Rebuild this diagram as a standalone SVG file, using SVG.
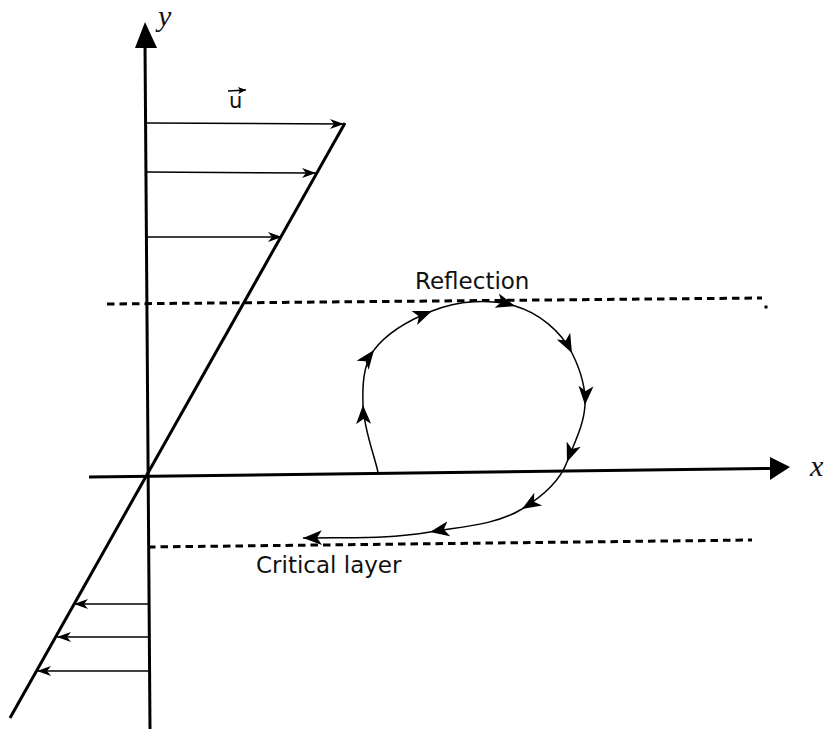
<svg xmlns="http://www.w3.org/2000/svg" width="826" height="729" viewBox="0 0 826 729">
<style>
.axis{stroke:#000;stroke-width:3;fill:none}
.thin{stroke:#000;stroke-width:1.5;fill:none}
.dash{stroke:#000;stroke-width:3;fill:none;stroke-dasharray:7.5 5}
.lbl{font-family:"DejaVu Sans",Verdana,sans-serif;font-size:23px;fill:#111}
.var{font-family:"Liberation Serif","Times New Roman",serif;font-style:italic;font-size:30px;fill:#111}
</style>
<defs>
<marker id="ah" markerUnits="userSpaceOnUse" markerWidth="22" markerHeight="18" viewBox="-19 -9 22 18" refX="0" refY="0" orient="auto">
<path d="M0,0 L-19,-7.5 L-14,0 L-19,7.5 Z" fill="#000"/>
</marker>
<marker id="vh" markerUnits="userSpaceOnUse" markerWidth="16" markerHeight="12" viewBox="-14 -6 16 12" refX="0" refY="0" orient="auto">
<path d="M0,0 L-14,-5 L-10,0 L-14,5 Z" fill="#000"/>
</marker>
<marker id="sh" markerUnits="userSpaceOnUse" markerWidth="10" markerHeight="8" viewBox="-8 -4 10 8" refX="0" refY="0" orient="auto">
<path d="M0,0 L-8,-3.5 L-6,0 L-8,3.5 Z" fill="#000"/>
</marker>
</defs>
<g id="axes">
<line class="axis" x1="145" y1="44" x2="150" y2="729"/>
<polygon points="145,22 135,48 157,48" fill="#000"/>
<line class="axis" x1="89" y1="477" x2="772" y2="468.5"/>
<polygon points="790,467 770,457 770,480" fill="#000"/>
<line class="axis" x1="345" y1="123" x2="10" y2="718"/>
</g>
<g id="profile-arrows">
<line class="thin" x1="146" y1="123" x2="344" y2="124" marker-end="url(#vh)"/>
<line class="thin" x1="146" y1="172" x2="316" y2="173" marker-end="url(#vh)"/>
<line class="thin" x1="146" y1="237" x2="282" y2="237" marker-end="url(#vh)"/>
<line class="thin" x1="148" y1="604" x2="74" y2="604" marker-end="url(#vh)"/>
<line class="thin" x1="148" y1="637" x2="57" y2="637" marker-end="url(#vh)"/>
<line class="thin" x1="148" y1="671" x2="37" y2="671" marker-end="url(#vh)"/>
</g>
<g id="layers">
<line class="dash" x1="107" y1="304" x2="762" y2="298"/>
<rect x="764.5" y="305.5" width="3" height="3" fill="#000"/>
<line class="dash" x1="148" y1="547" x2="752" y2="540"/>
</g>
<g id="ray">
<path class="thin" d="M378,472 C372.6,449.7 363.7,427.9 363,405" marker-end="url(#ah)"/>
<path class="thin" d="M363,405 C362.4,386.3 362.8,365 374,350" marker-end="url(#ah)"/>
<path class="thin" d="M374,350 C388,331.4 410.3,319.6 432,311" marker-end="url(#ah)"/>
<path class="thin" d="M432,311 C457.8,300.7 488.7,298.3 515,306" marker-end="url(#ah)"/>
<path class="thin" d="M515,306 C538.6,312.9 560.9,330.9 572,353" marker-end="url(#ah)"/>
<path class="thin" d="M572,353 C580,369.1 585.9,387.1 585,405" marker-end="url(#ah)"/>
<path class="thin" d="M585,405 C584,424.9 574,443.3 567,462" marker-end="url(#ah)"/>
<path class="thin" d="M567,462 C559.4,482.4 540.4,497.7 522,509" marker-end="url(#ah)"/>
<path class="thin" d="M522,509 C495.1,525.4 461,526.6 430,532" marker-end="url(#ah)"/>
<path class="thin" d="M430,532 C388.5,539.2 345.4,537.2 303,538" marker-end="url(#ah)"/>
</g>
<g id="labels">
<text class="var" x="158" y="26">y</text>
<text class="var" x="810" y="476">x</text>
<text class="lbl" x="229" y="108" style="font-size:21px">u</text>
<line class="thin" x1="228" y1="91" x2="246" y2="90" marker-end="url(#sh)"/>
<text class="lbl" x="415" y="289">Reflection</text>
<text class="lbl" x="256" y="573">Critical layer</text>
</g>
</svg>
